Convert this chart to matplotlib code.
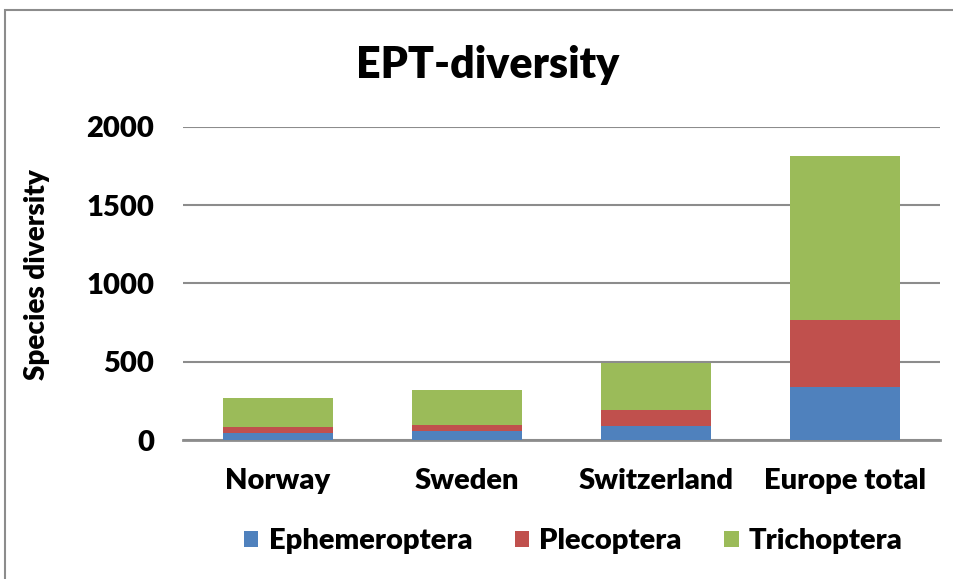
import numpy as np
import matplotlib.pyplot as plt
from matplotlib.patches import Rectangle

plt.rcParams["font.family"] = ["Lato", "DejaVu Sans"]
plt.rcParams["font.weight"] = "heavy"

countries = ["Norway", "Sweden", "Switzerland", "Europe total"]
ephemeroptera = [46, 59, 87, 340]
plecoptera = [35, 38, 106, 424]
trichoptera = [185, 221, 299, 1049]

BLUE = "#4f81bd"; RED = "#c0504d"; GREEN = "#9bbb59"

fig = plt.figure(figsize=(9.54, 5.79), dpi=100)
ax = fig.add_axes([0.192, 0.240, 0.793, 0.541])

x = np.arange(len(countries))
w = 0.58
e = np.array(ephemeroptera); p = np.array(plecoptera); t = np.array(trichoptera)
ax.bar(x, e, w, color=BLUE, label="Ephemeroptera", zorder=3)
ax.bar(x, p, w, bottom=e, color=RED, label="Plecoptera", zorder=3)
ax.bar(x, t, w, bottom=e + p, color=GREEN, label="Trichoptera", zorder=3)

ax.set_xlim(-0.5, len(countries) - 0.5)
ax.set_ylim(0, 2000)
ax.set_yticks([0, 500, 1000, 1500, 2000])
ax.yaxis.grid(True, color="#8c8c8c", lw=1.5, zorder=0)
ax.set_axisbelow(True)
for s in ["top", "right", "left"]:
    ax.spines[s].set_visible(False)
ax.spines["bottom"].set_color("#8c8c8c")
ax.spines["bottom"].set_linewidth(2)
ax.tick_params(length=0, labelsize=21)
ax.tick_params(axis="x", pad=20)
ax.tick_params(axis="y", pad=21)
ax.set_xticks(x)
ax.set_xticklabels(countries, fontweight="heavy")
for lab in ax.get_yticklabels():
    lab.set_fontweight("heavy")

fig.text(0.039, 0.525, "Species diversity", rotation=90, ha="center", va="center",
         fontsize=20, fontweight="heavy")
fig.text(0.511, 0.888, "EPT-diversity", ha="center", va="center",
         fontsize=31, fontweight="heavy")

fig.legend(loc="center", bbox_to_anchor=(0.601, 0.065), ncol=3, frameon=False,
           fontsize=21, handlelength=0.5, handleheight=0.5, columnspacing=1.45,
           handletextpad=0.35)

fig.patches.append(Rectangle((0.005, -0.1), 1.1, 1.083, transform=fig.transFigure,
                             fill=False, edgecolor="#8c8c8c", lw=1.5))

fig.savefig("out.png", dpi=100, facecolor="white")
